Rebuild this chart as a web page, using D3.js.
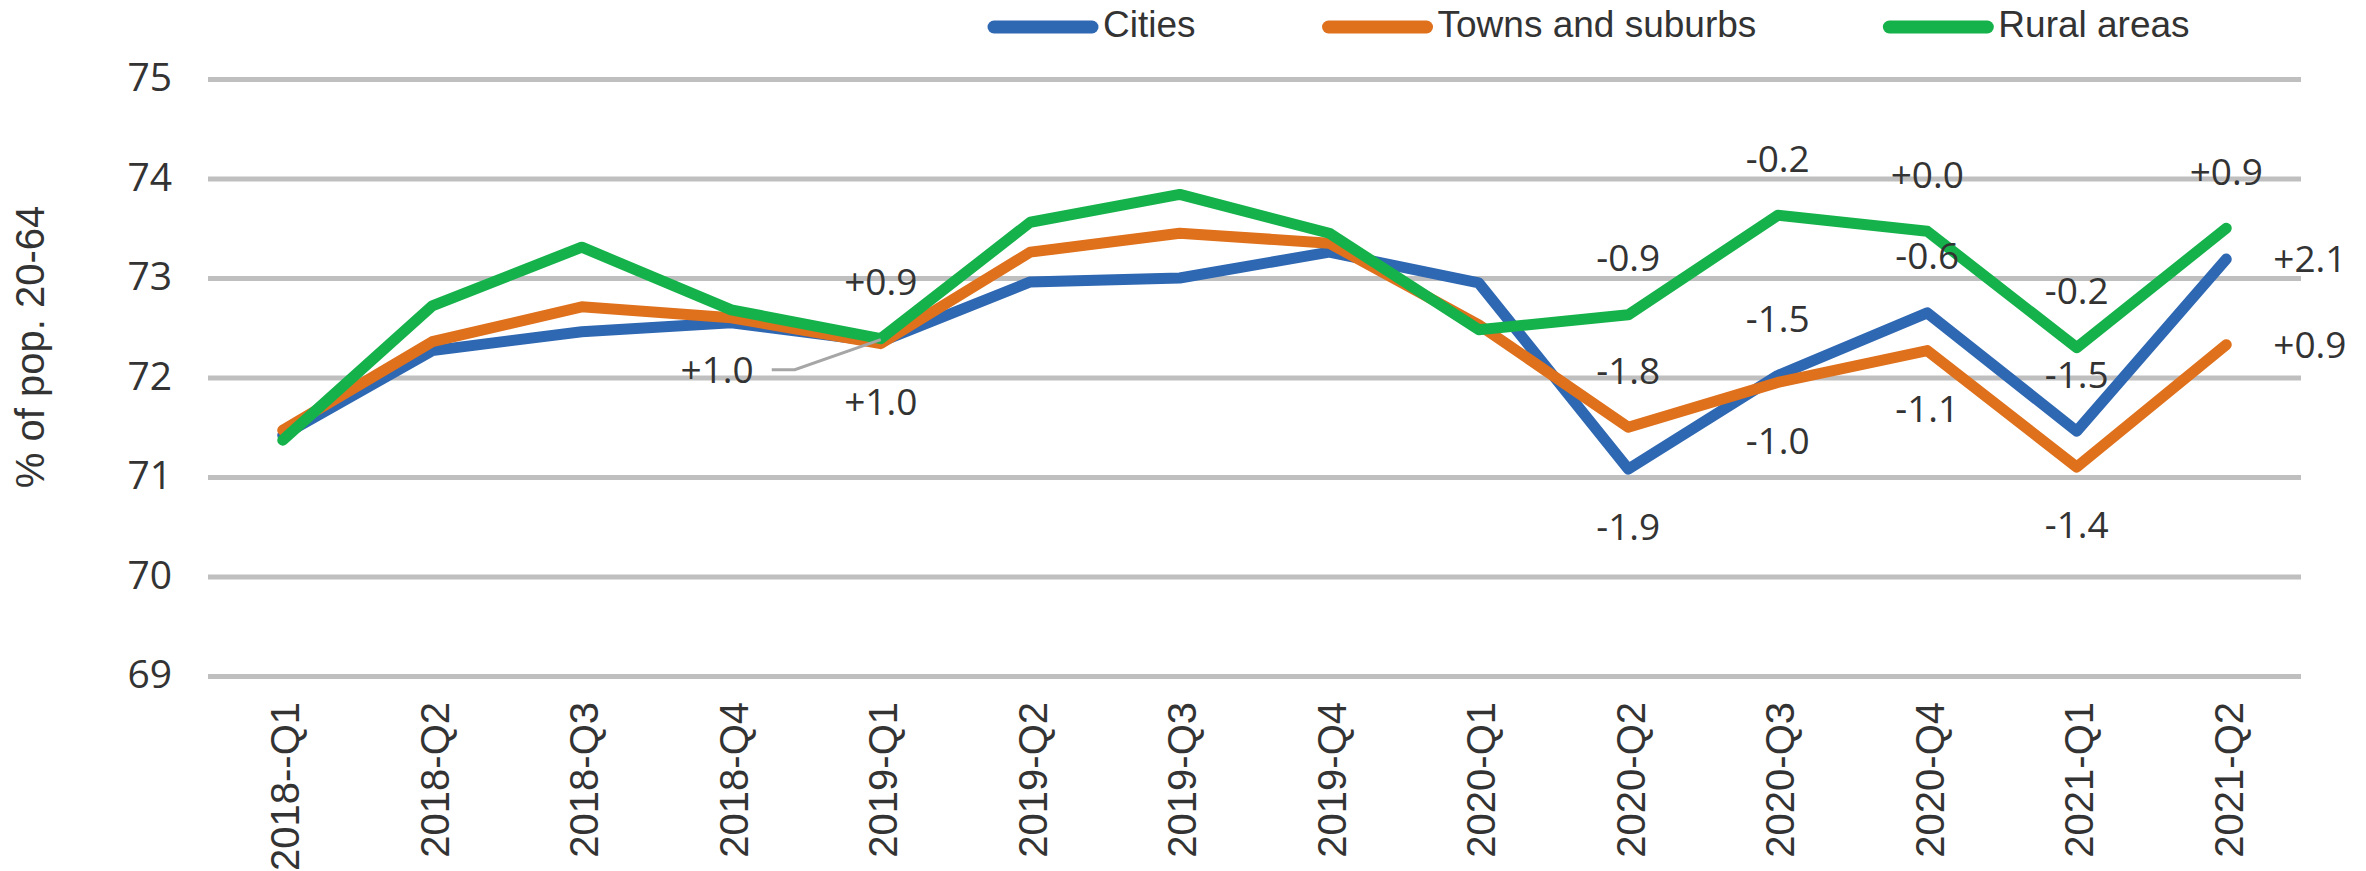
<!DOCTYPE html>
<html>
<head>
<meta charset="utf-8">
<script src="https://cdn.jsdelivr.net/npm/d3@7"></script>
<style>
  body { margin: 0; background: #fff; }
  svg { display: block; }
</style>
</head>
<body>
<svg id="chart" width="2366" height="871"></svg>
<script>
// quarters on the x axis
const quarters = ["2018--Q1", "2018-Q2", "2018-Q3", "2018-Q4", "2019-Q1", "2019-Q2", "2019-Q3",
    "2019-Q4", "2020-Q1", "2020-Q2", "2020-Q3", "2020-Q4", "2021-Q1", "2021-Q2"];

// employment rate, % of pop. 20-64
const cities = [71.42, 72.27, 72.46, 72.55, 72.36, 72.96, 73.00, 73.26, 72.95, 71.08, 72.02, 72.65, 71.46, 73.19];
const towns  = [71.47, 72.36, 72.71, 72.60, 72.34, 73.26, 73.45, 73.35, 72.53, 71.50, 71.95, 72.27, 71.10, 72.33];
const rural  = [71.37, 72.72, 73.31, 72.68, 72.39, 73.56, 73.84, 73.45, 72.48, 72.63, 73.63, 73.47, 72.30, 73.50];

// change labels (null = no label)
const citiesLabels = [null, null, null, null, "+1.0", null, null, null, null, "-1.9", "-1.5", "-0.6", "-1.5", "+2.1"];
const townsLabels  = [null, null, null, null, "+1.0", null, null, null, null, "-1.8", "-1.0", "-1.1", "-1.4", "+0.9"];
const ruralLabels  = [null, null, null, null, "+0.9", null, null, null, null, "-0.9", "-0.2", "+0.0", "-0.2", "+0.9"];

const yTicks = [69, 70, 71, 72, 73, 74, 75];
const yTitle = "% of pop. 20-64";

// where each label sits relative to its point
const placement = {
    cities: {4: "left", 9: "below", 10: "above", 11: "above", 12: "above", 13: "right"},
    towns: {4: "below", 9: "above", 10: "below", 11: "below", 12: "below", 13: "right"},
    rural: {4: "above", 9: "above", 10: "above", 11: "above", 12: "above", 13: "above"}
};

const series = [
    {key: "cities", name: "Cities", values: cities, labels: citiesLabels, color: "#2E67B2"},
    {key: "towns", name: "Towns and suburbs", values: towns, labels: townsLabels, color: "#DF701C"},
    {key: "rural", name: "Rural areas", values: rural, labels: ruralLabels, color: "#15B24B"}
];

const plot = {left: 208, right: 2301, top: 79, bottom: 676};
const textColor = "#333";
const numFont = "'Open Sans', 'Noto Sans', sans-serif";
const arialFont = "'Liberation Sans', Arial, sans-serif";

const svg = d3.select("#chart");

const x = d3.scalePoint().domain(quarters).range([plot.left, plot.right]).padding(0.5);
const y = d3.scaleLinear().domain([69, 75]).range([plot.bottom, plot.top]);

// gridlines
svg.append("g")
    .attr("transform", `translate(${plot.left},0)`)
    .call(d3.axisLeft(y).tickValues(yTicks).tickSize(-(plot.right - plot.left)).tickFormat(""))
    .call(g => g.select(".domain").remove())
    .call(g => g.selectAll(".tick line").attr("stroke", "#BFBFBF").attr("stroke-width", 5));

// y tick labels
svg.append("g")
    .attr("transform", `translate(${plot.left},0)`)
    .call(d3.axisLeft(y).tickValues(yTicks).tickFormat(d3.format("d")).tickSize(0).tickPadding(36))
    .call(g => g.select(".domain").remove())
    .call(g => g.selectAll("text")
        .attr("dy", "0.3em")
        .style("font-family", numFont)
        .style("font-size", "39px")
        .attr("fill", textColor));

// x tick labels, rotated
svg.append("g")
    .attr("transform", `translate(0,${plot.bottom})`)
    .call(d3.axisBottom(x).tickSize(0))
    .call(g => g.select(".domain").remove())
    .call(g => g.selectAll("text")
        .attr("transform", "rotate(-90)")
        .attr("x", -26)
        .attr("y", 0)
        .attr("dy", "0.4em")
        .style("text-anchor", "end")
        .style("font-family", arialFont)
        .style("font-size", "40px")
        .attr("fill", textColor));

// y axis title
svg.append("text")
    .attr("transform", "translate(44,347) rotate(-90)")
    .attr("text-anchor", "middle")
    .style("font-family", arialFont)
    .style("font-size", "40px")
    .attr("fill", textColor)
    .text(yTitle);

// lines
const line = d3.line()
    .x((d, i) => x(quarters[i]))
    .y(d => y(d));

svg.append("g").selectAll("path")
    .data(series)
    .join("path")
    .attr("d", d => line(d.values))
    .attr("fill", "none")
    .attr("stroke", d => d.color)
    .attr("stroke-width", 11)
    .attr("stroke-linejoin", "round")
    .attr("stroke-linecap", "round");

// data labels
const labelLayer = svg.append("g");
series.forEach(s => {
    s.labels.forEach((txt, i) => {
        if (txt == null) return;
        const px = x(quarters[i]), py = y(s.values[i]);
        const where = placement[s.key][i];
        let tx = px, ty = py, anchor = "middle";
        if (where === "above") ty = py - 57;
        else if (where === "below") ty = py + 58;
        else if (where === "right") { tx = px + 47; anchor = "start"; }
        else if (where === "left") {
            tx = px - 127; ty = py + 28; anchor = "end";
            labelLayer.append("path")
                .attr("d", d3.line()([[px - 109, py + 28], [px - 86, py + 28], [px, py - 2]]))
                .attr("fill", "none")
                .attr("stroke", "#A6A6A6")
                .attr("stroke-width", 3);
        }
        labelLayer.append("text")
            .attr("x", tx)
            .attr("y", ty)
            .attr("dy", "0.36em")
            .attr("text-anchor", anchor)
            .style("font-family", numFont)
            .style("font-size", "37px")
            .attr("fill", textColor)
            .text(txt);
    });
});

// legend
const legend = svg.append("g");
let lx = 988;
series.forEach(s => {
    legend.append("line")
        .attr("x1", lx + 6).attr("x2", lx + 104)
        .attr("y1", 27).attr("y2", 27)
        .attr("stroke", s.color)
        .attr("stroke-width", 13)
        .attr("stroke-linecap", "round");
    const t = legend.append("text")
        .attr("x", lx + 115)
        .attr("y", 37)
        .style("font-family", arialFont)
        .style("font-size", "37px")
        .attr("fill", textColor)
        .text(s.name);
    lx += 115 + t.node().getComputedTextLength() + 127;
});
</script>
</body>
</html>
